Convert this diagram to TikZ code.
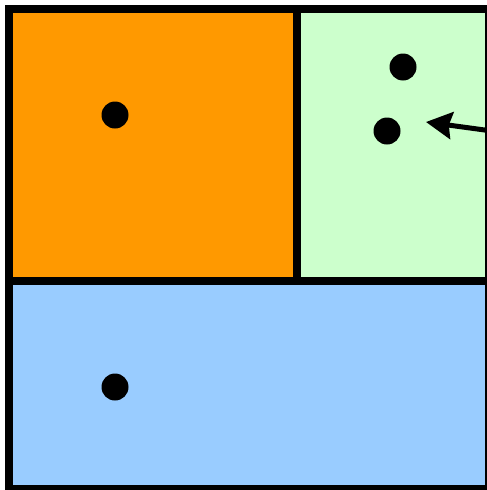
\documentclass[tikz,border=0pt]{standalone}
\usetikzlibrary{arrows.meta}
\definecolor{cOrange}{HTML}{FF9900}
\definecolor{cGreen}{HTML}{CCFFCC}
\definecolor{cBlue}{HTML}{99CCFF}
\tikzset{
  region/.style={draw=black, line width=8pt, line join=miter},
  dot/.style={circle, fill=black, inner sep=0pt, minimum size=27pt},
  pointer/.style={line width=5pt, -{Stealth[length=26pt,width=27pt,inset=3pt]}}
}
\begin{document}
\begin{tikzpicture}[x=1pt,y=-1pt]
\useasboundingbox (0,0) rectangle (487,490);
\clip (0,0) rectangle (487,490);
\fill[cOrange] (9,9) rectangle (297,281);
\fill[cGreen] (297,9) rectangle (489,281);
\fill[cBlue] (9,281) rectangle (489,489);
\draw[region] (9,9) rectangle (489,489);
\draw[region] (9,281) -- (489,281);
\draw[region] (297,9) -- (297,281);
\node[dot] (d1) at (115,115) {};
\node[dot] (d2) at (403,67) {};
\node[dot] (d3) at (387,131) {};
\node[dot] (d4) at (115,387) {};
\coordinate (src) at (492,131);
\coordinate (tip) at (426,122);
\draw[pointer] (src) -- (tip);
\end{tikzpicture}
\end{document}
